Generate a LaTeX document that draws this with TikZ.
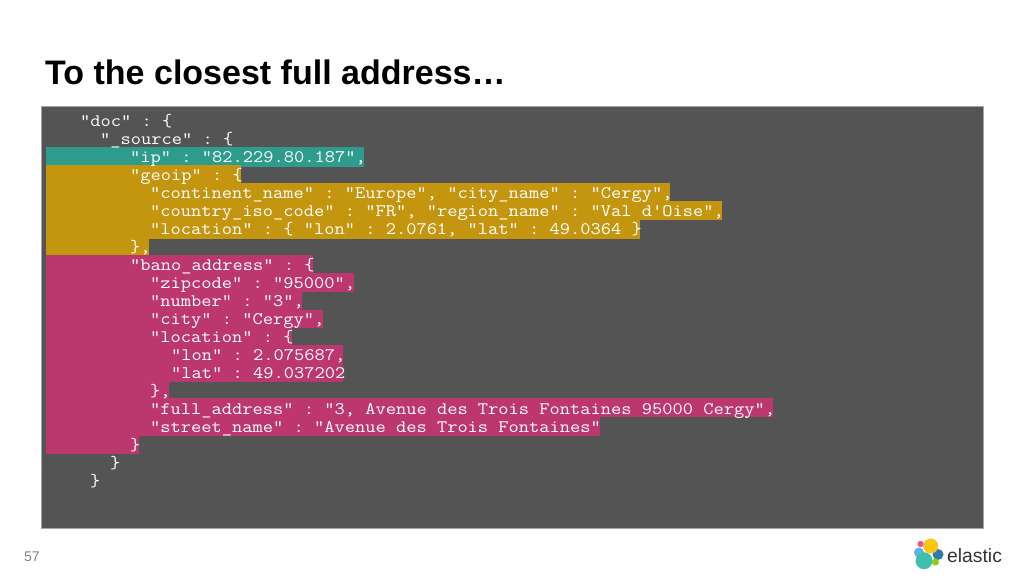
\documentclass[tikz,border=0pt]{standalone}
\usepackage{fontspec}
\setmainfont{Liberation Sans}
\usepackage{xcolor}
\definecolor{panelgray}{HTML}{545454}
\definecolor{ipteal}{HTML}{2E9C8C}
\definecolor{geogold}{HTML}{C4950F}
\definecolor{banopink}{HTML}{BC3670}
\definecolor{logopink}{HTML}{EE4E9E}
\definecolor{logosky}{HTML}{5DB3E4}
\definecolor{logoblue}{HTML}{2F7CAB}
\definecolor{logogreen}{HTML}{93C90E}
\definecolor{logoyellow}{HTML}{FBC514}
\definecolor{logoteal}{HTML}{40BFAE}
\tikzset{codeline/.style={anchor=base west, inner sep=0pt, text=white, xscale=1.13, transform shape, font=\ttfamily\fontsize{17.6}{20}\selectfont\frenchspacing}}

\begin{document}
\begin{tikzpicture}[x=1pt, y=-1pt]
  \useasboundingbox (0, 0) rectangle (1024, 576);

  % title and page number
  \node[anchor=base west, inner sep=0pt, font=\bfseries\fontsize{34}{36}\selectfont] (title) at (45, 84) {To the closest full address…};
  \node[anchor=base west, inner sep=0pt, text=gray, font=\fontsize{14}{16}\selectfont] (page) at (24, 561) {57};

  % panel
  \draw[fill=panelgray, draw=black!35, line width=0.6pt] (41, 106) rectangle (983, 528);

  % highlights
  \fill[ipteal] (46, 147) rectangle (364, 167);
  \foreach \ytop/\ybot/\xend in {165/183/241, 183/201/670, 201/220/722, 220/239/640, 239/255/149}
    \fill[geogold] (46, \ytop) rectangle (\xend, \ybot);
  \foreach \ytop/\ybot/\xend in {255/273/313, 273/292/354, 292/310/302, 310/328/323, 328/345/292,
      345/363/343, 363/382/343, 382/398/169, 398/417/773, 417/436/600, 436/454/139}
    \fill[banopink] (46, \ytop) rectangle (\xend, \ybot);

  % code lines
  \node[codeline] (doc) at (80, 126) {"doc" : \{};
  \node[codeline] (source) at (100, 144) {"\_source" : \{};
  \node[codeline] (ip) at (130, 162) {"ip" : "82.229.80.187",};
  \node[codeline] (geoip) at (130, 180) {"geoip" : \{};
  \node[codeline] (continent) at (150, 198) {"continent\_name" : "Europe", "city\_name" : "Cergy",};
  \node[codeline] (country) at (150, 216) {"country\_iso\_code" : "FR", "region\_name" : "Val d'Oise",};
  \node[codeline] (geoloc) at (150, 234) {"location" : \{ "lon" : 2.0761, "lat" : 49.0364 \}};
  \node[codeline] (geoend) at (130, 252) {\},};
  \node[codeline] (bano) at (130, 270) {"bano\_address" : \{};
  \node[codeline] (zipcode) at (150, 288) {"zipcode" : "95000",};
  \node[codeline] (number) at (150, 306) {"number" : "3",};
  \node[codeline] (city) at (150, 324) {"city" : "Cergy",};
  \node[codeline] (banoloc) at (150, 342) {"location" : \{};
  \node[codeline] (lon) at (171, 360) {"lon" : 2.075687,};
  \node[codeline] (lat) at (171, 378) {"lat" : 49.037202};
  \node[codeline] (locend) at (150, 396) {\},};
  \node[codeline] (full) at (150, 414) {"full\_address" : "3, Avenue des Trois Fontaines 95000 Cergy",};
  \node[codeline] (street) at (150, 432) {"street\_name" : "Avenue des Trois Fontaines"};
  \node[codeline] (banoend) at (130, 450) {\}};
  \node[codeline] (sourceend) at (110, 468) {\}};
  \node[codeline] (docend) at (90, 486) {\}};

  % logo
  \fill[logopink] (920.5, 544) circle (3.2);
  \fill[logosky] (919, 552.5) circle (5);
  \fill[logoblue] (938, 554.5) circle (5.5);
  \fill[logogreen] (935.5, 562) circle (3.5);
  \fill[logoyellow] (930.7, 546) circle (7.5);
  \fill[logoteal] (924, 560.7) circle (8.5);
  \node[anchor=base west, inner sep=0pt, text=black!80, font=\fontsize{19.3}{24}\selectfont] (brand) at (947, 562) {elastic};
\end{tikzpicture}
\end{document}
